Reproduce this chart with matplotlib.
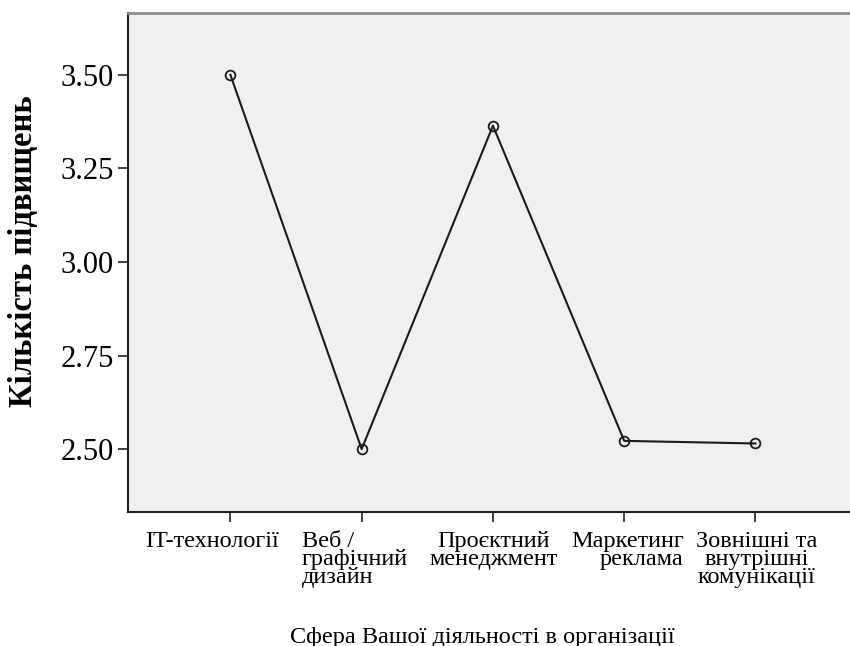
import matplotlib
matplotlib.use("Agg")
import matplotlib.pyplot as plt
import matplotlib.transforms as mtransforms

categories = [
    "IT-технології",
    "Веб /\nграфічний\nдизайн",
    "Проєктний\nменеджмент",
    "Маркетинг\nреклама",
    "Зовнішні та\nвнутрішні\nкомунікації",
]
mean_values = [3.50, 2.50, 3.364, 2.522, 2.515]
y_ticks = [2.50, 2.75, 3.00, 3.25, 3.50]
y_tick_labels = ["2.50", "2.75", "3.00", "3.25", "3.50"]

x_title = "Сфера Вашої діяльності в організації"
y_title = "Кількість підвищень"

plt.rcParams["font.family"] = ["Liberation Serif", "DejaVu Serif"]

fig = plt.figure(figsize=(8.5, 6.46), dpi=100)
ax = fig.add_axes([128 / 850, 1 - 512 / 646, 1 - 128 / 850, (512 - 13) / 646])
ax.set_facecolor("#f0f0f0")

xs = list(range(len(categories)))
ax.plot(xs, mean_values, color="#1a1a1a", linewidth=1.5,
        marker="o", markersize=7, markerfacecolor="none",
        markeredgecolor="#1a1a1a", markeredgewidth=1.3, clip_on=False)

ax.set_xlim(-0.78, 4.72)
ax.set_ylim(2.332, 3.665)

ax.set_yticks(y_ticks)
ax.set_yticklabels(y_tick_labels, fontsize=22)
ax.set_xticks(xs)
ax.set_xticklabels(categories, fontsize=17.5, linespacing=0.8)

ax.tick_params(axis="both", direction="out", length=7, width=1.2,
               color="#222222")
ax.tick_params(axis="y", pad=3)
ax.tick_params(axis="x", pad=7)

for side in ("left", "bottom"):
    ax.spines[side].set_color("#222222")
    ax.spines[side].set_linewidth(1.5)
ax.spines["top"].set_color("#8a8a8a")
ax.spines["top"].set_linewidth(2)
ax.spines["right"].set_visible(False)

# per-label alignment of wrapped category names
label_layout = [
    ("center", "center", -18),
    ("center", "left", -7),
    ("center", "center", 1),
    ("center", "right", 3),
    ("center", "center", 1),
]
for lbl, (ha, ma, dx) in zip(ax.get_xticklabels(), label_layout):
    lbl.set_horizontalalignment(ha)
    lbl.set_multialignment(ma)
    lbl.set_transform(lbl.get_transform() +
                      mtransforms.ScaledTranslation(dx / 100, 0, fig.dpi_scale_trans))

fig.text(482 / 850, 1 - 637 / 646, x_title, fontsize=17.5,
         ha="center", va="center")
fig.text(24 / 850, 1 - 251 / 646, y_title, fontsize=23.5, fontweight="bold",
         rotation=90, ha="center", va="center")

fig.savefig("out.png", dpi=100, facecolor="white")
